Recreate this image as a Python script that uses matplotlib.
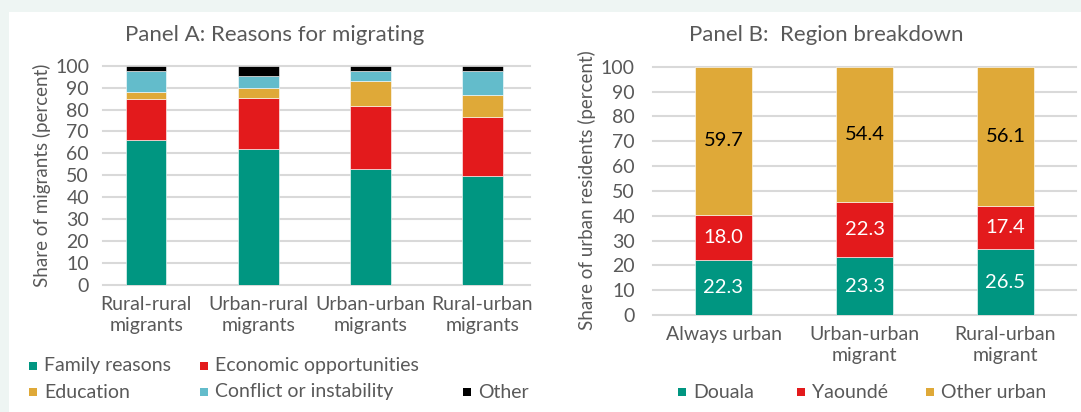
"""
Recreate two-panel stacked bar chart: reasons for migrating / region breakdown.
"""

import matplotlib

matplotlib.use("Agg")
import matplotlib.pyplot as plt
import numpy as np
from matplotlib.patches import Rectangle

# --- Data Panel A ---
cats_a = ["Rural-rural\nmigrants", "Urban-rural\nmigrants", "Urban-urban\nmigrants", "Rural-urban\nmigrants"]
series_a = ["Family reasons", "Economic opportunities", "Education", "Conflict or instability", "Other"]
family = [66.0, 62.1, 53.0, 49.7]
economic = [19.0, 23.2, 28.5, 27.1]
education = [3.2, 4.7, 11.4, 9.9]
conflict = [9.3, 5.5, 4.8, 10.7]
other = [2.5, 4.5, 2.3, 2.6]

# --- Data Panel B ---
cats_b = ["Always urban", "Urban-urban\nmigrant", "Rural-urban\nmigrant"]
series_b = ["Douala", "Yaoundé", "Other urban"]
douala = [22.3, 23.3, 26.5]
yaounde = [18.0, 22.3, 17.4]
other_urban = [59.7, 54.4, 56.1]

GREEN = "#009681"
RED = "#e31a1c"
ORANGE = "#dfa938"
CYAN = "#63bccb"
BLACK = "#000000"
GREY = "#595959"
GRID = "#d9d9d9"

W, H = 1081, 412
FS = 14
plt.rcParams["font.family"] = ["Lato", "DejaVu Sans"]


def fx(px):
    return px / W


def fy(py):
    return 1 - py / H


def stack(ax, x, layers, colors, width):
    bottom = np.zeros(len(x))
    bars = []
    for vals, col in zip(layers, colors):
        b = ax.bar(x, vals, width, bottom=bottom, color=col, edgecolor="white", linewidth=0.4, zorder=3)
        bars.append(b)
        bottom = bottom + np.array(vals)
    return bars


def style_axis(ax, cats, pad):
    for s in ax.spines.values():
        s.set_visible(False)
    ax.set_ylim(0, 100)
    ax.set_yticks(range(0, 101, 10))
    ax.yaxis.grid(True, color=GRID, linewidth=1.5, zorder=0)
    ax.set_axisbelow(True)
    ax.tick_params(axis="y", length=0, pad=pad, labelsize=FS, labelcolor=GREY)
    ax.tick_params(axis="x", length=0, pad=8, labelsize=FS, labelcolor=GREY)
    ax.set_xticks(range(len(cats)))
    ax.set_xticklabels(cats, linespacing=1.3)
    for gl in ax.yaxis.get_gridlines():
        gl.set_clip_on(False)


def legend_item(fig, x, y, color, label):
    size = 8
    fig.patches.append(Rectangle((fx(x), fy(y + size / 2)), fx(size), size / H,
                                 transform=fig.transFigure, facecolor=color, edgecolor="none"))
    fig.text(fx(x + size + 7), fy(y), label, fontsize=FS, color=GREY, va="center", ha="left")


fig = plt.figure(figsize=(W / 100, H / 100), dpi=100, facecolor="#eef5f3")
fig.patches.append(Rectangle((fx(9), 0), 1, fy(12), transform=fig.transFigure,
                             facecolor="white", edgecolor="none", zorder=-1))

# --- Panel A ---
ax_a = fig.add_axes([fx(103), fy(285), fx(530 - 103), (285 - 65.7) / H])
xa = np.arange(len(cats_a))
stack(ax_a, xa, [family, economic, education, conflict, other], [GREEN, RED, ORANGE, CYAN, BLACK], 0.363)
style_axis(ax_a, cats_a, 10)
ax_a.set_xlim(-0.385, 3.425)
fig.text(fx(42), fy(175), "Share of migrants (percent)", rotation=90, fontsize=13.5,
         color=GREY, ha="center", va="center")
fig.text(fx(275), fy(35), "Panel A: Reasons for migrating", fontsize=16, color=GREY,
         ha="center", va="center")

cols_a = [GREEN, RED, ORANGE, CYAN, BLACK]
pos_a = [(29, 366), (200, 366), (29, 392), (200, 392), (463, 392)]
for (x, y), c, lab in zip(pos_a, cols_a, series_a):
    legend_item(fig, x, y, c, lab)

# --- Panel B ---
ax_b = fig.add_axes([fx(653), fy(315), fx(1076 - 653), (315 - 66.7) / H])
xb = np.arange(len(cats_b))
bars_b = stack(ax_b, xb, [douala, yaounde, other_urban], [GREEN, RED, ORANGE], 0.40)
style_axis(ax_b, cats_b, 13)
ax_b.set_xlim(-0.5, 2.5)
for bars, vals, tc in zip(bars_b, [douala, yaounde, other_urban], ["white", "white", "black"]):
    for rect, v in zip(bars, vals):
        ax_b.text(rect.get_x() + rect.get_width() / 2, rect.get_y() + rect.get_height() / 2,
                  f"{v:.1f}", ha="center", va="center", fontsize=14.5, color=tc, zorder=4)
fig.text(fx(587), fy(190), "Share of urban residents (percent)", rotation=90, fontsize=13.5,
         color=GREY, ha="center", va="center")
fig.text(fx(826), fy(35), "Panel B:  Region breakdown", fontsize=16, color=GREY,
         ha="center", va="center")

pos_b = [(678, 392), (797, 392), (926, 392)]
for (x, y), c, lab in zip(pos_b, [GREEN, RED, ORANGE], series_b):
    legend_item(fig, x, y, c, lab)

fig.savefig("out.png", dpi=100, facecolor=fig.get_facecolor())
